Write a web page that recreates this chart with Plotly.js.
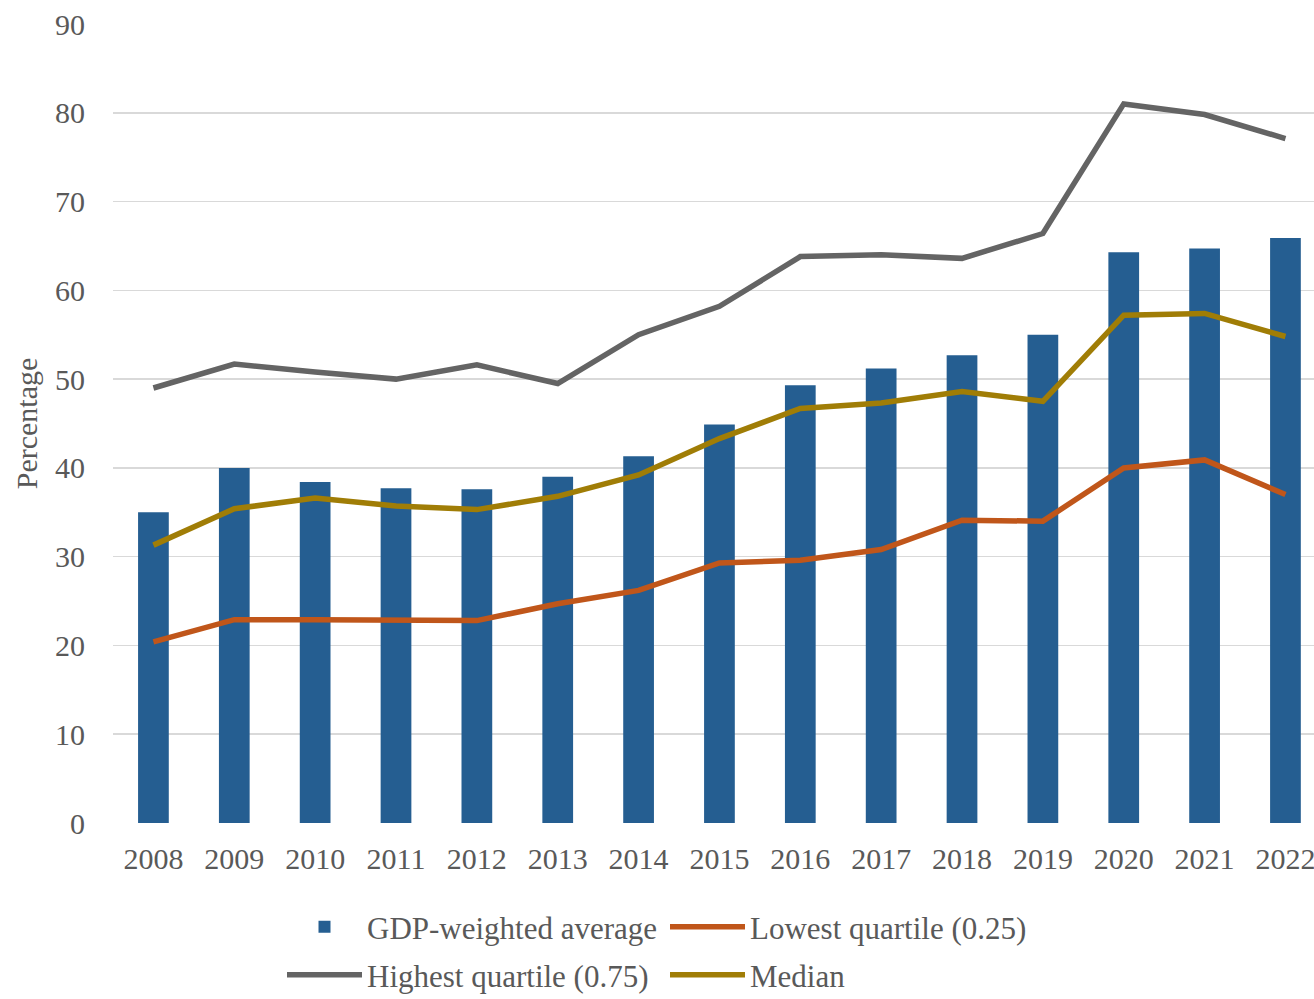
<!DOCTYPE html>
<html>
<head>
<meta charset="utf-8">
<script src="https://cdn.plot.ly/plotly-3.0.1.min.js"></script>
<style>html,body{margin:0;padding:0;background:#fff;}#chart{width:1314px;height:999px;}</style>
</head>
<body>
<div id="chart"></div>
<script>
const years = ['2008','2009','2010','2011','2012','2013','2014','2015','2016','2017','2018','2019','2020','2021','2022'];
const gdpWeighted = [35.0, 40.0, 38.4, 37.7, 37.6, 39.0, 41.3, 44.9, 49.3, 51.2, 52.7, 55.0, 64.3, 64.7, 65.9];
const lowestQuartile = [20.4, 22.9, 22.9, 22.9, 22.8, 24.7, 26.2, 29.3, 29.6, 30.8, 34.1, 34.0, 40.0, 40.9, 37.0];
const highestQuartile = [49.0, 51.7, 50.8, 50.0, 51.6, 49.5, 55.0, 58.2, 63.8, 64.0, 63.6, 66.4, 81.0, 79.8, 77.1];
const median = [31.3, 35.4, 36.6, 35.7, 35.3, 36.8, 39.2, 43.3, 46.7, 47.3, 48.6, 47.5, 57.2, 57.4, 54.8];
const yTicks = [0, 10, 20, 30, 40, 50, 60, 70, 80, 90];

const fontFam = '"Liberation Serif", "Times New Roman", serif';
const txt = '#595959';

const traces = [
  {type:'bar', x:years, y:gdpWeighted, name:'GDP-weighted average',
   marker:{color:'#255E91'}, width:0.38, legend:'legend'},
  {type:'scatter', mode:'lines', x:years, y:lowestQuartile, name:'Lowest quartile (0.25)',
   line:{color:'#C0561A', width:5.5}, legend:'legend'},
  {type:'scatter', mode:'lines', x:years, y:highestQuartile, name:'Highest quartile (0.75)',
   line:{color:'#646464', width:5.5}, legend:'legend2'},
  {type:'scatter', mode:'lines', x:years, y:median, name:'Median',
   line:{color:'#A07D06', width:5.5}, legend:'legend2'}
];

const legendBase = {orientation:'h', xanchor:'left', yanchor:'top', xref:'paper', yref:'container',
  font:{size:31, color:txt}, entrywidth:293, entrywidthmode:'pixels',
  itemwidth:75, traceorder:'normal', bgcolor:'rgba(0,0,0,0)'};

const layout = {
  width:1314, height:999,
  margin:{l:113, r:0, t:24, b:176, autoexpand:false},
  paper_bgcolor:'#fff', plot_bgcolor:'#fff',
  font:{family:fontFam, color:txt, size:30},
  showlegend:true,
  xaxis:{type:'category', range:[-0.5, 14.353], showgrid:false, zeroline:false,
         showline:false, ticks:'', tickfont:{size:30, color:txt}, ticklabelstandoff:15,
         fixedrange:true, automargin:false},
  yaxis:{range:[0,90], tickvals:yTicks, ticktext:yTicks.map(String), showgrid:true,
         gridcolor:'#D9D9D9', gridwidth:1.5, zeroline:false, showline:false,
         tickfont:{size:30, color:txt}, ticklabelstandoff:27, automargin:false,
         title:{text:'Percentage', font:{size:30, color:txt}, standoff:8}},
  legend:Object.assign({}, legendBase, {x:(282-113)/1201, y:0.099}),
  legend2:Object.assign({}, legendBase, {x:(282-113)/1201, y:0.051}),
  bargap:0.62
};

Plotly.newPlot('chart', traces, layout, {displayModeBar:false, staticPlot:true});
</script>
</body>
</html>
